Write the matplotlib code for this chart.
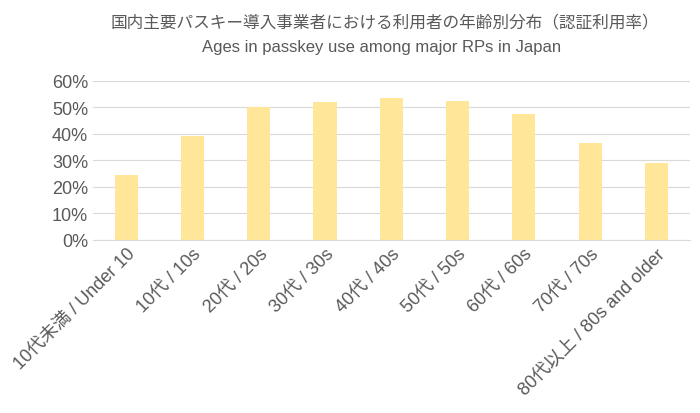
import matplotlib
matplotlib.use("Agg")
import matplotlib.pyplot as plt
from matplotlib.ticker import PercentFormatter

plt.rcParams['font.family'] = ['Liberation Sans', 'Noto Sans CJK JP', 'DejaVu Sans']

categories = ["10代未満 / Under 10", "10代 / 10s", "20代 / 20s", "30代 / 30s", "40代 / 40s",
              "50代 / 50s", "60代 / 60s", "70代 / 70s", "80代以上 / 80s and older"]
values = [24.3, 39.3, 50.0, 52.0, 53.5, 52.4, 47.5, 36.5, 29.0]

fig = plt.figure(figsize=(7, 4.14), dpi=100)
ax = fig.add_axes([0.133, 0.418, 0.852, 0.385])
ax.bar(range(len(values)), values, width=0.35, color="#FFE699", zorder=2)
ax.set_ylim(0, 60)
ax.set_yticks(range(0, 61, 10))
ax.yaxis.set_major_formatter(PercentFormatter(decimals=0))
ax.grid(axis='y', color='#D9D9D9', linewidth=0.8, zorder=0)
ax.set_xlim(-0.5, len(values) - 0.5)
for s in ['top', 'right', 'left']:
    ax.spines[s].set_visible(False)
ax.spines['bottom'].set_color('#D9D9D9')
ax.tick_params(axis='both', length=0, labelsize=13, colors='#595959')
ax.set_xticks(range(len(values)))
ax.set_xticklabels(categories, rotation=45, ha='right', rotation_mode='anchor')
fig.text(0.55, 0.935, "国内主要パスキー導入事業者における利用者の年齢別分布（認証利用率）",
         ha='center', fontsize=12, color='#595959')
fig.text(0.545, 0.875, "Ages in passkey use among major RPs in Japan",
         ha='center', fontsize=12, color='#595959')
fig.savefig("out.png", dpi=100)
